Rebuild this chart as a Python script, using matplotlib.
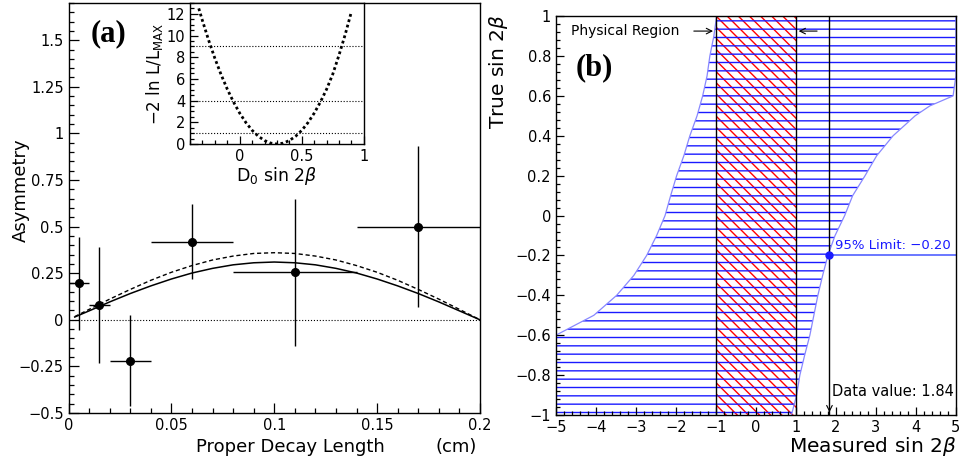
import matplotlib.pyplot as plt
import numpy as np
from matplotlib.ticker import MultipleLocator, FixedLocator, FixedFormatter

# ---- panel (a): asymmetry vs proper decay length ----
pt_x = [0.005, 0.015, 0.03, 0.06, 0.11, 0.17]
pt_xerr = [0.005, 0.005, 0.01, 0.02, 0.03, 0.03]
pt_y = [0.195, 0.08, -0.22, 0.42, 0.254, 0.50]
pt_yerr = [0.25, 0.31, 0.245, 0.20, 0.395, 0.43]

fit_x = [0.003, 0.01, 0.02, 0.03, 0.04, 0.05, 0.06, 0.07, 0.08, 0.09, 0.10,
         0.11, 0.12, 0.13, 0.14, 0.15, 0.16, 0.17, 0.18, 0.19, 0.20]
fit_solid = [0.015, 0.048, 0.096, 0.141, 0.182, 0.219, 0.251, 0.276, 0.295, 0.306, 0.31,
             0.306, 0.295, 0.276, 0.251, 0.219, 0.182, 0.141, 0.096, 0.048, 0.0]
fit_dashed = [0.017, 0.056, 0.111, 0.163, 0.212, 0.255, 0.291, 0.321, 0.342, 0.356, 0.36,
              0.356, 0.342, 0.321, 0.291, 0.255, 0.212, 0.163, 0.111, 0.056, 0.0]

a_yticks = [-0.5, -0.25, 0, 0.25, 0.5, 0.75, 1, 1.25, 1.5]
a_ylabels = ["\u22120.5", "\u22120.25", "0", "0.25", "0.5", "0.75", "1", "1.25", "1.5"]
a_xticks = [0, 0.05, 0.1, 0.15, 0.2]
a_xlabels = ["0", "0.05", "0.1", "0.15", "0.2"]

# inset: -2 ln L/Lmax scan
scan_x = [-0.33, -0.30, -0.25, -0.20, -0.15, -0.10, -0.05, 0.00, 0.05, 0.10, 0.15, 0.20,
          0.25, 0.30, 0.35, 0.40, 0.45, 0.50, 0.55, 0.60, 0.65, 0.70, 0.75, 0.80, 0.85, 0.90]
scan_y = [12.5, 11.36, 9.55, 7.89, 6.39, 5.05, 3.87, 2.84, 1.97, 1.26, 0.71, 0.32,
          0.08, 0.0, 0.08, 0.32, 0.71, 1.26, 1.97, 2.84, 3.87, 5.05, 6.45, 8.2, 10.1, 12.2]
scan_levels = [1, 4, 9]

# ---- panel (b): confidence belt ----
belt_y = [-1, -0.9, -0.8, -0.7, -0.6, -0.5, -0.4, -0.3, -0.2, -0.1, 0,
          0.1, 0.2, 0.3, 0.4, 0.5, 0.55, 0.6, 0.7, 0.8, 0.9, 1]
belt_left = [-5, -5, -5, -5, -5, -4.05, -3.48, -3.05, -2.73, -2.48, -2.27,
             -2.13, -1.98, -1.80, -1.65, -1.47, -1.40, -1.33, -1.22, -1.15, -1.05, -0.98]
belt_right = [0.89, 1.02, 1.10, 1.22, 1.35, 1.45, 1.55, 1.67, 1.80, 1.98, 2.22,
              2.42, 2.73, 3.02, 3.43, 3.98, 4.35, 4.93, 5, 5, 5, 5]
physical = [-1, 1]
data_value = 1.84
limit_value = -0.20

b_yticks = [-1, -0.8, -0.6, -0.4, -0.2, 0, 0.2, 0.4, 0.6, 0.8, 1]
b_ylabels = ["\u22121", "\u22120.8", "\u22120.6", "\u22120.4", "\u22120.2", "0",
             "0.2", "0.4", "0.6", "0.8", "1"]
b_xticks = [-5, -4, -3, -2, -1, 0, 1, 2, 3, 4, 5]
b_xlabels = ["\u22125", "\u22124", "\u22123", "\u22122", "\u22121", "0", "1", "2", "3", "4", "5"]

plt.rcParams['hatch.linewidth'] = 1.0

fig = plt.figure(figsize=(9.6, 4.66), dpi=100)


def style(ax, major, minor, labsize):
    ax.tick_params(which='both', direction='in', top=False, right=False, labelsize=labsize)
    ax.tick_params(which='major', length=major, width=0.9)
    ax.tick_params(which='minor', length=minor, width=0.9)
    for s in ax.spines.values():
        s.set_linewidth(1.0)


# ---------- (a) ----------
ax = fig.add_axes([0.0714, 0.1137, 0.4286, 0.88])
ax.axhline(0, color='k', ls=':', lw=0.8)
ax.plot(fit_x, fit_dashed, color='k', ls=(0, (3, 2)), lw=1.0)
ax.plot(fit_x, fit_solid, color='k', ls='-', lw=1.1)
ax.errorbar(pt_x, pt_y, xerr=pt_xerr, yerr=pt_yerr, fmt='o', color='k',
            ms=5.5, elinewidth=1.0, capsize=0)
ax.set_xlim(0, 0.2)
ax.set_ylim(-0.5, 1.7)
ax.yaxis.set_major_locator(FixedLocator(a_yticks))
ax.yaxis.set_major_formatter(FixedFormatter(a_ylabels))
ax.yaxis.set_minor_locator(MultipleLocator(0.05))
ax.xaxis.set_major_locator(FixedLocator(a_xticks))
ax.xaxis.set_major_formatter(FixedFormatter(a_xlabels))
ax.xaxis.set_minor_locator(MultipleLocator(0.01))
style(ax, 7, 3.5, 10.5)
ax.text(0.0192, 1.533, "(a)", family='Liberation Serif', fontweight='bold',
        fontsize=22, ha='center', va='center')
fig.text(290 / 960, 1 - 447 / 466, "Proper Decay Length", fontsize=13, ha='center', va='center')
fig.text(456 / 960, 1 - 447 / 466, "(cm)", fontsize=13, ha='center', va='center')
fig.text(21 / 960, 1 - 190 / 466, "Asymmetry", fontsize=13, rotation=90, ha='center', va='center')

# inset
ins = fig.add_axes([0.198, 0.691, 0.181, 0.3026])
ins.set_facecolor('white')
for lv in scan_levels:
    ins.axhline(lv, color='k', ls=':', lw=0.8)
ins.plot(scan_x, scan_y, color='k', ls=(0, (1, 1)), lw=2.0)
ins.set_xlim(-0.4, 1)
ins.set_ylim(0, 13)
ins.xaxis.set_major_locator(FixedLocator([0, 0.5, 1]))
ins.xaxis.set_major_formatter(FixedFormatter(["0", "0.5", "1"]))
ins.xaxis.set_minor_locator(MultipleLocator(0.1))
ins.yaxis.set_major_locator(MultipleLocator(2))
ins.yaxis.set_minor_locator(MultipleLocator(0.5))
style(ins, 6, 3, 10.5)
ins.set_xlabel(r"D$_{\mathregular{0}}$ sin 2$\beta$", fontsize=12.5, labelpad=1)
ins.set_ylabel(r"$\mathregular{-2}$ ln L/L$_{\mathregular{MAX}}$", fontsize=12, labelpad=1)

# ---------- (b) ----------
bx = fig.add_axes([0.579, 0.1094, 0.4167, 0.856])
bx.axvspan(physical[0], physical[1], facecolor='none', edgecolor='red', hatch='\\\\\\', lw=0)
bx.fill_betweenx(belt_y, belt_left, belt_right, facecolor='none', edgecolor='#1a1aff',
                 hatch='--', lw=0)
bx.plot(belt_left, belt_y, color='#8888ff', lw=0.9)
bx.plot(belt_right, belt_y, color='#8888ff', lw=0.9)
for p in physical:
    bx.axvline(p, color='k', lw=1.0)
bx.axvline(data_value, color='k', lw=1.0)
bx.annotate('', xy=(data_value, -1.0), xytext=(data_value, -0.955),
            arrowprops=dict(arrowstyle='->', color='k', lw=0.8))
bx.plot([data_value, 5], [limit_value, limit_value], color='#5060ff', lw=1.2)
bx.plot([data_value], [limit_value], 'o', color='#1a1aff', ms=5)
bx.text(1.98, -0.15, f"95% Limit: \u2212{abs(limit_value):.2f}", color='#1a1aff',
        fontsize=9.5, ha='left', va='center')
bx.text(1.9, -0.88, f"Data value: {data_value:.2f}", color='k', fontsize=10.5,
        ha='left', va='center')
bx.text(-4.62, 0.925, "Physical Region", fontsize=10, ha='left', va='center')
bx.annotate('', xy=(physical[0], 0.925), xytext=(-1.62, 0.925),
            arrowprops=dict(arrowstyle='->', color='k', lw=0.8))
bx.annotate('', xy=(physical[1], 0.925), xytext=(1.6, 0.925),
            arrowprops=dict(arrowstyle='->', color='k', lw=0.8))
bx.text(-4.05, 0.74, "(b)", family='Liberation Serif', fontweight='bold',
        fontsize=22, ha='center', va='center')
bx.set_xlim(-5, 5)
bx.set_ylim(-1, 1)
bx.yaxis.set_major_locator(FixedLocator(b_yticks))
bx.yaxis.set_major_formatter(FixedFormatter(b_ylabels))
bx.yaxis.set_minor_locator(MultipleLocator(0.04))
bx.xaxis.set_major_locator(FixedLocator(b_xticks))
bx.xaxis.set_major_formatter(FixedFormatter(b_xlabels))
bx.xaxis.set_minor_locator(MultipleLocator(0.2))
style(bx, 6, 3, 10.5)
fig.text(956 / 960, 1 - 446 / 466, r"Measured sin 2$\beta$", fontsize=14.5, ha='right', va='center')
fig.text(499 / 960, 1 - 72 / 466, r"True sin 2$\beta$", fontsize=14.5, rotation=90,
         ha='center', va='center')

fig.savefig("out.png", dpi=100)
